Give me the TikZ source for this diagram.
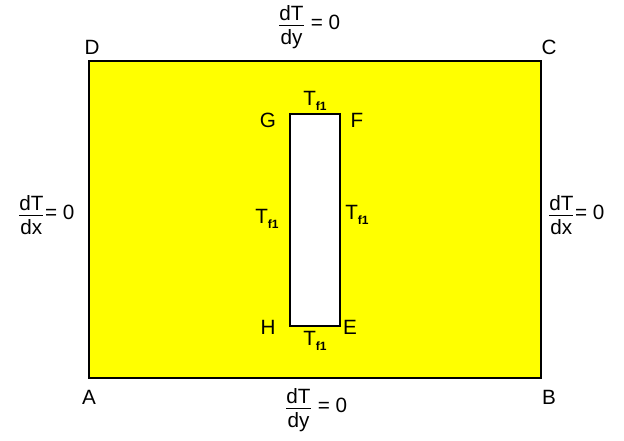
\documentclass[tikz,border=0pt]{standalone}
\usepackage{fontspec}
\usepackage{amsmath}
\setmainfont{Liberation Sans}
\usetikzlibrary{calc}

\definecolor{platefill}{RGB}{255,255,0}

\newcommand{\grad}[2]{$\genfrac{}{}{0.7pt}{1}{\mbox{d#1}\rule[-2.5pt]{0pt}{2.5pt}}{\rule{0pt}{13.5pt}\mbox{d#2}}$}
\newcommand{\tfluid}{T\raisebox{-0.4ex}{\fontsize{9}{9}\selectfont\bfseries f1}}

\begin{document}
\begin{tikzpicture}[x=0.75pt, y=-0.75pt, font=\fontsize{15.5}{18}\selectfont]

  % Styles for the plate, the hole and the labels
  \tikzset{
    plate/.style={fill=platefill, draw=black, line width=1.5pt},
    hole/.style={fill=white, draw=black, line width=1.2pt},
    corner/.style={inner sep=0pt},
    bc/.style={inner sep=0pt}
  }

  \useasboundingbox (0,0) rectangle (624,440);

  % 1. Outer plate corners
  \coordinate (A) at (89,378);
  \coordinate (B) at (541,378);
  \coordinate (C) at (541,61);
  \coordinate (D) at (89,61);

  % 2. Inner hole corners
  \coordinate (E) at (340,326);
  \coordinate (F) at (340,114);
  \coordinate (G) at (290,114);
  \coordinate (H) at (290,326);

  % --- DRAWING SHAPES ---
  \draw[plate] (A) -- (B) -- (C) -- (D) -- cycle;
  \draw[hole] (E) -- (F) -- (G) -- (H) -- cycle;

  % --- CORNER LABELS ---
  \node[corner] (lA) at (89,397) {A};
  \node[corner] (lB) at (549,397) {B};
  \node[corner] (lC) at (549,47) {C};
  \node[corner] (lD) at (92,47) {D};
  \node[corner] (lE) at (350,327) {E};
  \node[corner] (lF) at (357,120) {F};
  \node[corner] (lG) at (268,120) {G};
  \node[corner] (lH) at (268,327) {H};

  % --- BOUNDARY CONDITIONS ---
  \node[bc] (top) at (309,27) {\grad{T}{y} = 0};
  \node[bc] (bottom) at (316,410) {\grad{T}{y} = 0};
  \node[bc] (left) at (46,215) {\grad{T}{x}= 0};
  \node[bc] (right) at (576,215) {\grad{T}{x}= 0};

  % Hole wall temperature
  \node[bc] (tG) at (315,101) {\tfluid};
  \node[bc] (tH) at (315,341) {\tfluid};
  \node[bc] (tL) at (267,219) {\tfluid};
  \node[bc] (tR) at (357,215) {\tfluid};

\end{tikzpicture}
\end{document}
